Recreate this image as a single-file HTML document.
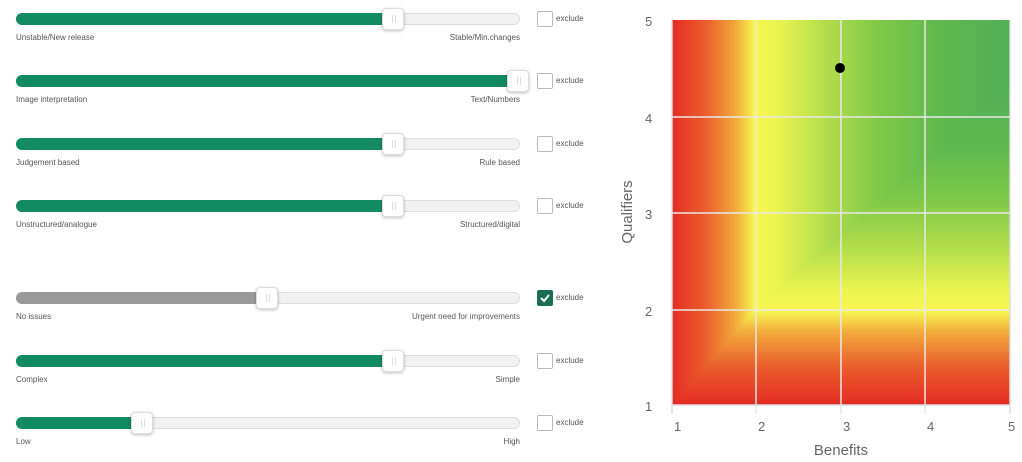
<!DOCTYPE html>
<html><head><meta charset="utf-8"><style>
body{margin:0;width:1022px;height:462px;background:#fff;position:relative;overflow:hidden;font-family:"Liberation Sans",sans-serif;}
.tr{position:absolute;left:16px;width:504px;height:12px;border-radius:6px;background:#f2f2f2;border:1px solid #dedede;box-sizing:border-box;}
.fill{position:absolute;left:16px;height:12px;border-radius:6px;background:#128a62;}
.h{position:absolute;width:22px;height:22px;border-radius:4px;background:#fff;border:1px solid #ddd;box-shadow:0 1px 3px rgba(0,0,0,.25);box-sizing:border-box;}
.h:after{content:"";position:absolute;left:9px;top:6px;width:2px;height:8px;border-left:1px solid #ddd;border-right:1px solid #ddd;}
.lab{position:absolute;font-size:8px;color:#555;}
.cb{position:absolute;left:537px;width:16px;height:16px;border:1px solid #bbb;border-radius:2px;box-sizing:border-box;background:#fff;}
.ex{position:absolute;left:556px;font-size:8px;color:#555;}
</style></head><body>
<div id="s"></div>
<canvas id="c" width="338" height="385" style="position:absolute;left:672px;top:20px"></canvas>
<svg width="1022" height="462" style="position:absolute;left:0;top:0">
<g stroke="#e8e8e8" stroke-width="1.5" fill="none">
<line x1="756" y1="20" x2="756" y2="414"/><line x1="841" y1="20" x2="841" y2="414"/><line x1="925" y1="20" x2="925" y2="414"/>
<line x1="672" y1="20" x2="672" y2="414" stroke="#ddd"/><line x1="1010" y1="20" x2="1010" y2="414" stroke="#ddd"/>
<line x1="672" y1="117" x2="1010" y2="117"/><line x1="672" y1="213" x2="1010" y2="213"/><line x1="672" y1="310" x2="1010" y2="310"/>
<line x1="672" y1="405" x2="1010" y2="405" stroke="#ddd"/>
</g>
<circle cx="840" cy="68" r="5" fill="#000"/>
<text x="0" y="0" transform="translate(632,212) rotate(-90)" text-anchor="middle" font-size="15" fill="#666" font-family="Liberation Sans">Qualifiers</text>
<text x="841" y="455" text-anchor="middle" font-size="15" fill="#666" font-family="Liberation Sans">Benefits</text>
<g font-size="13" fill="#666" font-family="Liberation Sans">
<text x="645" y="26">5</text><text x="645" y="123">4</text><text x="645" y="219">3</text><text x="645" y="316">2</text><text x="645" y="411">1</text>
<text x="674" y="431">1</text><text x="758" y="431">2</text><text x="843" y="431">3</text><text x="927" y="431">4</text><text x="1008" y="431">5</text>
</g>
</svg>
<script>
var rows=[[19,393,"Unstable/New release","Stable/Min.changes",0,0],[81,518,"Image interpretation","Text/Numbers",0,0],[144,393,"Judgement based","Rule based",0,0],[206,393,"Unstructured/analogue","Structured/digital",0,0],[298,267,"No issues","Urgent need for improvements",1,1],[361,393,"Complex","Simple",0,0],[423,142,"Low","High",0,0]];
var h="";
rows.forEach(function(r){var y=r[0];
h+='<div class="tr" style="top:'+(y-6)+'px"></div>';
h+='<div class="fill" style="top:'+(y-6)+'px;width:'+(r[1]-16)+'px;background:'+(r[4]?'#9a9a9a':'#128a62')+'"></div>';
h+='<div class="h" style="left:'+(r[1]-11)+'px;top:'+(y-11)+'px"></div>';
h+='<div class="lab" style="left:16px;top:'+(y+14)+'px">'+r[2]+'</div>';
h+='<div class="lab" style="right:502px;top:'+(y+14)+'px">'+r[3]+'</div>';
h+='<div class="cb" style="top:'+(y-8)+'px;'+(r[5]?'background:#1a6e55;border-color:#1a6e55':'')+'">'+(r[5]?'<svg width="14" height="14" style="position:absolute;left:0;top:0"><path d="M3 7 L6 10 L11 4" stroke="#fff" stroke-width="2" fill="none"/></svg>':'')+'</div>';
h+='<div class="ex" style="top:'+(y-5)+'px">exclude</div>';});
document.getElementById("s").innerHTML=h;
var c=document.getElementById("c").getContext("2d"),W=338,H=385,img=c.createImageData(W,H);
var st=[[0,[228,45,35]],[0.4,[234,95,45]],[0.75,[242,170,60]],[0.97,[248,245,80]],[1.25,[235,245,80]],[1.8,[180,222,75]],[2.5,[125,200,72]],[3.2,[95,185,78]],[4,[82,176,88]]];
function col(s){for(var i=1;i<st.length;i++){if(s<=st[i][0]){var a=st[i-1],b=st[i],t=(s-a[0])/(b[0]-a[0]);return [0,1,2].map(function(k){return a[1][k]+(b[1][k]-a[1][k])*t;});}}return st[st.length-1][1];}
for(var y=0;y<H;y++){var q=1+4*(H-1-y)/(H-1);for(var x=0;x<W;x++){var b=1+4*x/(W-1);
var sb=b-1;var sq=q<2?(q-1):(1+(q-2)*1.3);if(sq>4)sq=4;
var s=Math.min(sb,sq);var cc=col(s);var i=(y*W+x)*4;img.data[i]=cc[0];img.data[i+1]=cc[1];img.data[i+2]=cc[2];img.data[i+3]=255;}}
c.putImageData(img,0,0);
</script>
</body></html>
